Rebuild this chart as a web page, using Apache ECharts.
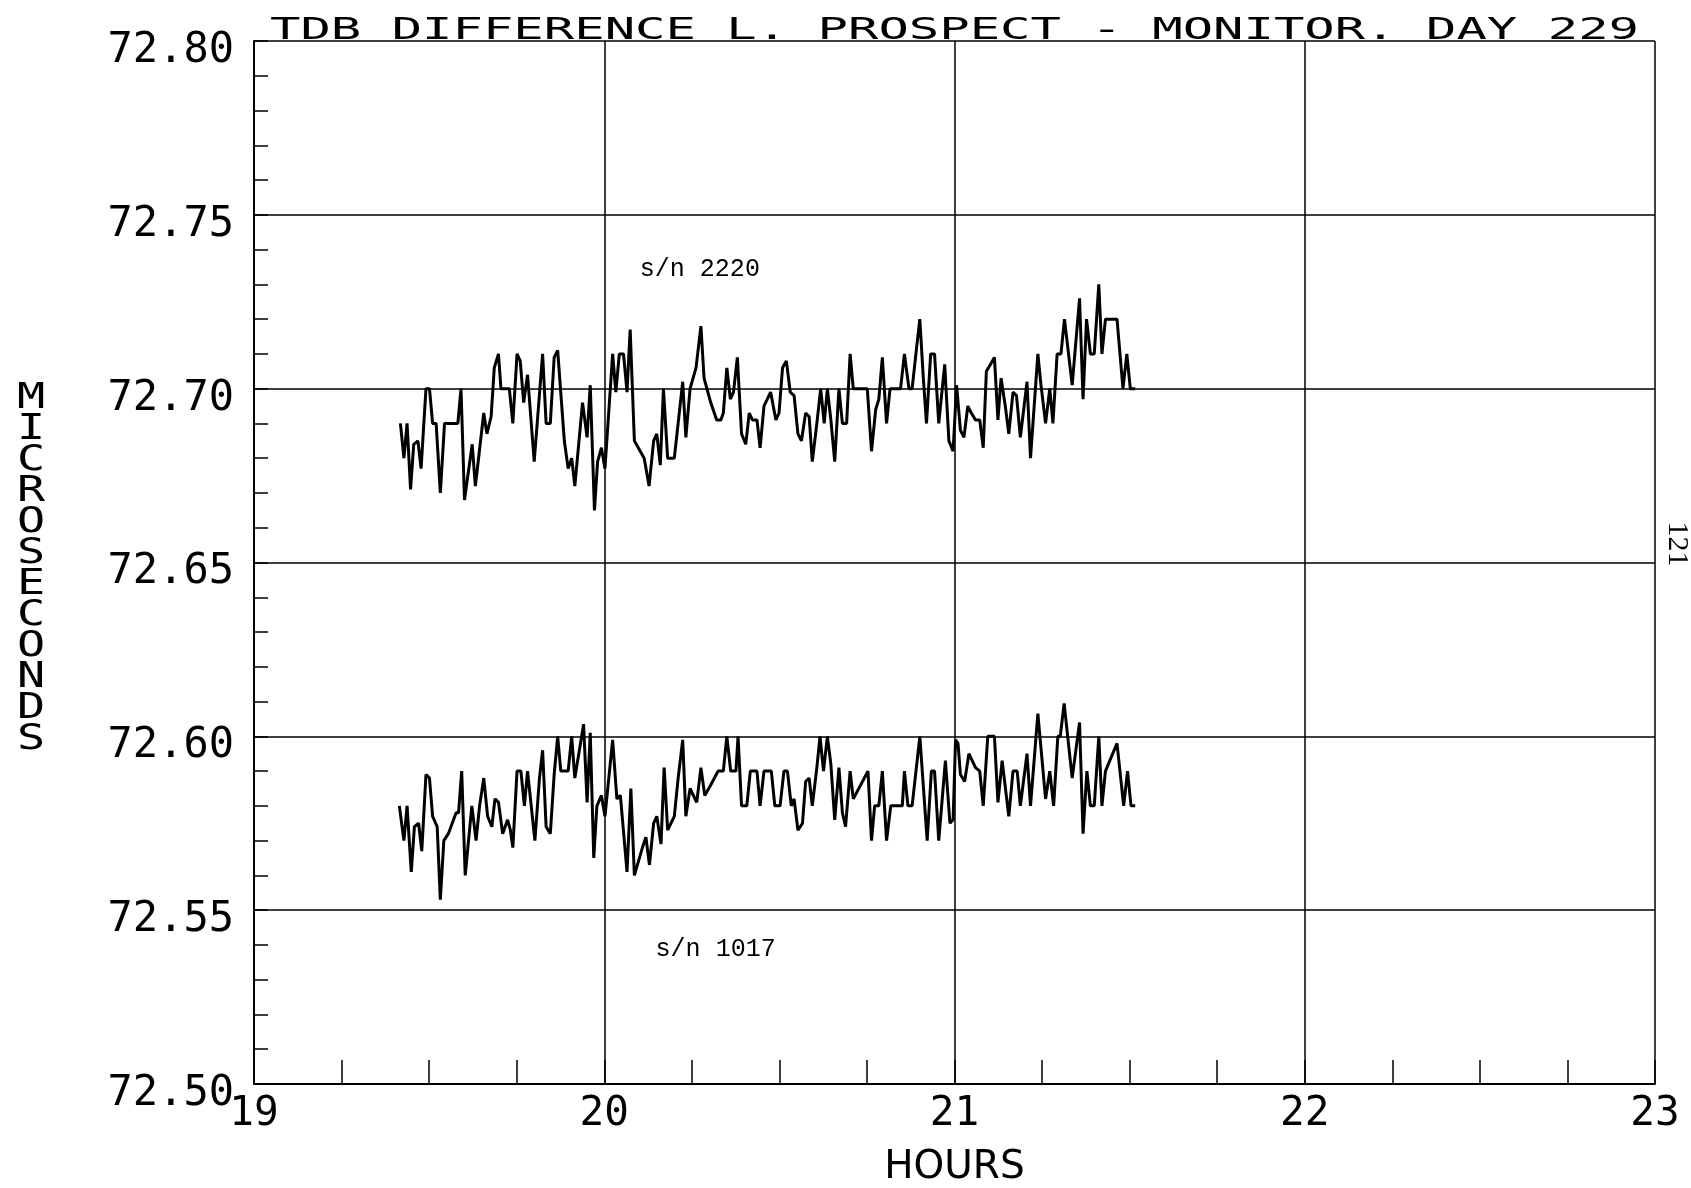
<!DOCTYPE html>
<html>
<head>
<meta charset="utf-8">
<title>TDB Difference L. Prospect - Monitor. Day 229</title>
<script src="https://cdn.jsdelivr.net/npm/echarts@6/dist/echarts.min.js"></script>
<style>
  html, body { margin: 0; padding: 0; background: #fff; }
  #chart { width: 1691px; height: 1188px; }
</style>
</head>
<body>
<div id="chart"></div>
<script>
// s/n 2220 (upper trace), hours and microseconds
const upperHours = [
  19.418, 19.428, 19.437, 19.447, 19.456, 19.468, 19.477, 19.491, 19.501, 19.510,
  19.520, 19.532, 19.544, 19.582, 19.591, 19.601, 19.623, 19.632, 19.656, 19.665,
  19.677, 19.686, 19.698, 19.705, 19.729, 19.739, 19.751, 19.760, 19.770, 19.781,
  19.800, 19.824, 19.834, 19.846, 19.857, 19.867, 19.886, 19.897, 19.907, 19.916,
  19.938, 19.951, 19.960, 19.972, 19.981, 19.992, 20.002, 20.024, 20.033, 20.043,
  20.055, 20.065, 20.074, 20.086, 20.114, 20.128, 20.141, 20.150, 20.160, 20.169,
  20.181, 20.200, 20.224, 20.233, 20.245, 20.262, 20.276, 20.285, 20.304, 20.321,
  20.333, 20.340, 20.350, 20.360, 20.369, 20.380, 20.392, 20.404, 20.414, 20.423,
  20.436, 20.445, 20.456, 20.475, 20.490, 20.499, 20.509, 20.520, 20.531, 20.542,
  20.553, 20.563, 20.575, 20.585, 20.594, 20.607, 20.618, 20.628, 20.637, 20.647,
  20.658, 20.670, 20.680, 20.692, 20.702, 20.711, 20.751, 20.763, 20.775, 20.784,
  20.794, 20.806, 20.816, 20.846, 20.857, 20.870, 20.879, 20.892, 20.901, 20.911,
  20.920, 20.932, 20.943, 20.955, 20.972, 20.984, 20.996, 21.006, 21.017, 21.027,
  21.038, 21.048, 21.060, 21.072, 21.082, 21.091, 21.103, 21.114, 21.124, 21.133,
  21.145, 21.155, 21.167, 21.177, 21.188, 21.207, 21.217, 21.238, 21.247, 21.260,
  21.272, 21.281, 21.293, 21.304, 21.314, 21.336, 21.357, 21.367, 21.377, 21.388,
  21.399, 21.412, 21.421, 21.431, 21.464, 21.481, 21.492, 21.502, 21.516
];
const upperValues = [
  72.690, 72.680, 72.690, 72.671, 72.684, 72.685, 72.677, 72.700, 72.700, 72.690,
  72.690, 72.670, 72.690, 72.690, 72.700, 72.668, 72.684, 72.672, 72.693, 72.687,
  72.692, 72.706, 72.710, 72.700, 72.700, 72.690, 72.710, 72.708, 72.696, 72.704,
  72.679, 72.710, 72.690, 72.690, 72.709, 72.711, 72.685, 72.677, 72.680, 72.672,
  72.696, 72.686, 72.701, 72.665, 72.679, 72.683, 72.677, 72.710, 72.699, 72.710,
  72.710, 72.699, 72.717, 72.685, 72.680, 72.672, 72.685, 72.687, 72.678, 72.700,
  72.680, 72.680, 72.702, 72.686, 72.700, 72.706, 72.718, 72.703, 72.696, 72.691,
  72.691, 72.693, 72.706, 72.697, 72.699, 72.709, 72.687, 72.684, 72.693, 72.691,
  72.691, 72.683, 72.695, 72.699, 72.691, 72.693, 72.706, 72.708, 72.699, 72.698,
  72.687, 72.685, 72.693, 72.692, 72.679, 72.690, 72.700, 72.690, 72.700, 72.691,
  72.679, 72.700, 72.690, 72.690, 72.710, 72.700, 72.700, 72.682, 72.694, 72.697,
  72.709, 72.690, 72.700, 72.700, 72.710, 72.700, 72.700, 72.712, 72.720, 72.703,
  72.690, 72.710, 72.710, 72.690, 72.707, 72.685, 72.682, 72.701, 72.688, 72.686,
  72.695, 72.693, 72.691, 72.691, 72.683, 72.705, 72.707, 72.709, 72.691, 72.703,
  72.695, 72.687, 72.699, 72.698, 72.686, 72.702, 72.680, 72.710, 72.701, 72.690,
  72.700, 72.690, 72.710, 72.710, 72.720, 72.701, 72.726, 72.697, 72.720, 72.710,
  72.710, 72.730, 72.710, 72.720, 72.720, 72.700, 72.710, 72.700, 72.700
];

// s/n 1017 (lower trace)
const lowerHours = [
  19.415, 19.428, 19.437, 19.449, 19.458, 19.470, 19.479, 19.491, 19.501, 19.510,
  19.523, 19.532, 19.542, 19.555, 19.577, 19.584, 19.593, 19.603, 19.622, 19.634,
  19.644, 19.656, 19.667, 19.679, 19.688, 19.698, 19.710, 19.724, 19.732, 19.739,
  19.751, 19.762, 19.772, 19.781, 19.802, 19.815, 19.824, 19.834, 19.846, 19.857,
  19.867, 19.876, 19.897, 19.907, 19.916, 19.929, 19.941, 19.951, 19.960, 19.970,
  19.979, 19.992, 20.002, 20.024, 20.036, 20.046, 20.065, 20.076, 20.086, 20.109,
  20.119, 20.129, 20.141, 20.150, 20.162, 20.171, 20.181, 20.200, 20.211, 20.224,
  20.233, 20.245, 20.264, 20.276, 20.287, 20.304, 20.325, 20.340, 20.350, 20.361,
  20.376, 20.382, 20.392, 20.407, 20.417, 20.436, 20.445, 20.456, 20.477, 20.487,
  20.502, 20.513, 20.523, 20.534, 20.542, 20.553, 20.566, 20.575, 20.585, 20.594,
  20.607, 20.616, 20.626, 20.637, 20.647, 20.658, 20.670, 20.680, 20.689, 20.702,
  20.711, 20.732, 20.753, 20.763, 20.772, 20.784, 20.794, 20.806, 20.818, 20.851,
  20.857, 20.867, 20.879, 20.901, 20.922, 20.934, 20.943, 20.955, 20.974, 20.987,
  20.996, 21.003, 21.010, 21.017, 21.029, 21.041, 21.060, 21.072, 21.082, 21.095,
  21.114, 21.124, 21.136, 21.155, 21.167, 21.179, 21.188, 21.207, 21.217, 21.238,
  21.260, 21.272, 21.283, 21.295, 21.302, 21.313, 21.336, 21.357, 21.367, 21.378,
  21.388, 21.399, 21.412, 21.421, 21.431, 21.464, 21.483, 21.494, 21.504, 21.516
];
const lowerValues = [
  72.580, 72.570, 72.580, 72.561, 72.574, 72.575, 72.567, 72.589, 72.588, 72.577,
  72.574, 72.553, 72.570, 72.572, 72.578, 72.578, 72.590, 72.560, 72.580, 72.570,
  72.580, 72.588, 72.577, 72.574, 72.582, 72.581, 72.572, 72.576, 72.573, 72.568,
  72.590, 72.590, 72.580, 72.590, 72.570, 72.588, 72.596, 72.574, 72.572, 72.589,
  72.600, 72.590, 72.590, 72.600, 72.588, 72.596, 72.6035, 72.581, 72.601, 72.565,
  72.580, 72.583, 72.577, 72.599, 72.582, 72.583, 72.561, 72.585, 72.560, 72.568,
  72.571, 72.563, 72.575, 72.577, 72.569, 72.591, 72.573, 72.577, 72.588, 72.599,
  72.577, 72.585, 72.581, 72.591, 72.583, 72.586, 72.590, 72.590, 72.600, 72.590,
  72.590, 72.600, 72.580, 72.580, 72.590, 72.590, 72.580, 72.590, 72.590, 72.580,
  72.580, 72.590, 72.590, 72.580, 72.582, 72.573, 72.575, 72.587, 72.588, 72.580,
  72.591, 72.600, 72.590, 72.600, 72.592, 72.576, 72.591, 72.578, 72.574, 72.590,
  72.582, 72.586, 72.590, 72.570, 72.580, 72.580, 72.590, 72.570, 72.580, 72.580,
  72.590, 72.580, 72.580, 72.600, 72.570, 72.590, 72.590, 72.570, 72.593, 72.575,
  72.576, 72.599, 72.598, 72.589, 72.587, 72.595, 72.591, 72.590, 72.580, 72.600,
  72.600, 72.581, 72.593, 72.577, 72.590, 72.590, 72.580, 72.595, 72.580, 72.6065,
  72.582, 72.590, 72.580, 72.600, 72.600, 72.6095, 72.588, 72.604, 72.572, 72.590,
  72.580, 72.580, 72.600, 72.580, 72.590, 72.598, 72.580, 72.590, 72.580, 72.580
];

// serial-number labels, placed in data coordinates
const seriesLabels = ['s/n 2220', 's/n 1017'];
const labelAt = [[20.273, 72.7343], [20.318, 72.5386]];

const titleText = 'TDB DIFFERENCE L. PROSPECT - MONITOR. DAY 229';
const yName = 'MICROSECONDS';
const xName = 'HOURS';
const pageNo = '121';

const plotFont = '"DejaVu Sans Mono", monospace';
const typeFont = '"Liberation Mono", monospace';

const zip = (xs, ys) => xs.map((x, i) => [x, ys[i]]);

const chart = echarts.init(document.getElementById('chart'));

function snLabel(i) {
  return {
    silent: true,
    symbol: 'circle',
    symbolSize: 0,
    label: {
      show: true,
      position: 'inside',
      formatter: seriesLabels[i],
      color: '#000',
      fontFamily: typeFont,
      fontSize: 25
    },
    data: [{ coord: labelAt[i] }]
  };
}

const lineStyle = { color: '#000', width: 3 };

const option = {
  animation: false,
  backgroundColor: '#fff',
  grid: { left: 254, right: 36, top: 41, bottom: 104, outerBoundsMode: 'none', containLabel: false },
  xAxis: {
    type: 'value',
    min: 19,
    max: 23,
    interval: 1,
    name: xName,
    nameLocation: 'middle',
    nameGap: 64,
    nameMoveOverlap: false,
    nameTextStyle: { color: '#000', fontFamily: '"DejaVu Sans", sans-serif', fontSize: 39, verticalAlign: 'top' },
    axisLine: { show: true, onZero: false, lineStyle: { color: '#000', width: 2 } },
    axisTick: { show: true, inside: true, length: 24, lineStyle: { color: '#000', width: 1.5 } },
    minorTick: { show: true, splitNumber: 4, length: 24, lineStyle: { color: '#000', width: 1.5 } },
    axisLabel: { color: '#000', fontFamily: plotFont, fontSize: 41, margin: 10 },
    splitLine: { show: true, lineStyle: { color: '#000', width: 1.5 } }
  },
  yAxis: {
    type: 'value',
    min: 72.5,
    max: 72.8,
    interval: 0.05,
    axisLine: { show: true, onZero: false, lineStyle: { color: '#000', width: 2 } },
    axisTick: { show: true, inside: true, length: 14, lineStyle: { color: '#000', width: 1.5 } },
    minorTick: { show: true, splitNumber: 5, length: 14, lineStyle: { color: '#000', width: 1.5 } },
    axisLabel: {
      color: '#000',
      margin: 20,
      formatter: v => '{t|' + v.toFixed(2) + '}',
      rich: {
        t: {
          color: '#000',
          fontFamily: plotFont,
          fontSize: 42,
          padding: [20, 0, 0, 0]
        }
      }
    },
    splitLine: { show: true, lineStyle: { color: '#000', width: 1.5 } }
  },
  graphic: [
    {
      type: 'text',
      x: 270,
      y: 46,
      scaleX: 1.63,
      silent: true,
      style: {
        text: titleText,
        fill: '#000',
        font: '31px ' + plotFont,
        textAlign: 'left',
        textVerticalAlign: 'bottom'
      }
    },
    {
      type: 'text',
      x: 31,
      y: 569,
      scaleX: 1.3,
      silent: true,
      style: {
        text: yName.split('').join('\n'),
        fill: '#000',
        font: '36px ' + plotFont,
        lineHeight: 31,
        textAlign: 'center',
        textVerticalAlign: 'middle'
      }
    },
    {
      type: 'text',
      x: 1677,
      y: 544,
      rotation: -Math.PI / 2,
      silent: true,
      style: {
        text: pageNo,
        fill: '#000',
        font: '30px "Liberation Serif", serif',
        textAlign: 'center',
        textVerticalAlign: 'middle'
      }
    }
  ],
  series: [
    {
      name: seriesLabels[0],
      type: 'line',
      showSymbol: false,
      data: zip(upperHours, upperValues),
      lineStyle: lineStyle,
      itemStyle: { color: '#000' },
      markPoint: snLabel(0)
    },
    {
      name: seriesLabels[1],
      type: 'line',
      showSymbol: false,
      data: zip(lowerHours, lowerValues),
      lineStyle: lineStyle,
      itemStyle: { color: '#000' },
      markPoint: snLabel(1)
    }
  ]
};

chart.setOption(option);
</script>
</body>
</html>
